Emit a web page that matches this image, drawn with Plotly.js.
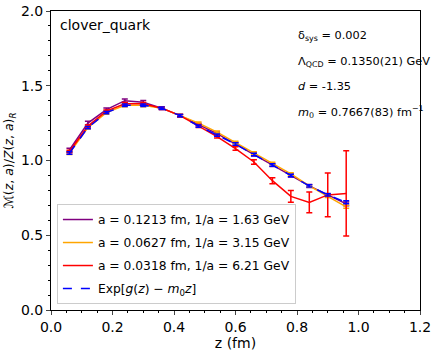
<!DOCTYPE html>
<html><head><meta charset="utf-8">
<script src="https://cdn.plot.ly/plotly-3.0.1.min.js"></script>
<style>body{margin:0;background:#fff}#plot{width:436px;height:351px}</style>
</head><body><div id="plot"></div>
<script>
const z = [0.06,0.12,0.18,0.24,0.30,0.36,0.42,0.48,0.54,0.60,0.66,0.72,0.78,0.84,0.90,0.96];
const purpleVals = [1.07,1.25,1.34,1.40,1.39,1.35,1.30,1.24,1.18,1.11,1.04,0.97,0.90,0.83,0.77,0.71];
const purpleErr  = [0.012,0.012,0.012,0.012,0.012,0.010,0.010,0.010,0.010,0.010,0.010,0.010,0.010,0.010,0.010,0.012];
const orangeVals = [1.05,1.22,1.32,1.37,1.37,1.35,1.30,1.25,1.19,1.12,1.05,0.98,0.91,0.83,0.76,0.69];
const orangeErr  = [0.010,0.010,0.010,0.010,0.010,0.008,0.008,0.008,0.008,0.008,0.008,0.008,0.008,0.008,0.008,0.010];
const redVals    = [1.06,1.23,1.33,1.38,1.38,1.35,1.30,1.23,1.16,1.08,0.99,0.865,0.76,0.72,0.77,0.78];
const redErr     = [0.008,0.008,0.008,0.008,0.008,0.008,0.008,0.010,0.010,0.012,0.015,0.02,0.04,0.07,0.147,0.285];
const expVals    = [1.05,1.22,1.32,1.37,1.37,1.35,1.30,1.23,1.17,1.11,1.04,0.97,0.90,0.83,0.77,0.72];
const expErr     = [0.008,0.008,0.008,0.008,0.008,0.008,0.008,0.008,0.008,0.008,0.008,0.008,0.008,0.008,0.008,0.010];
const seriesNames = ["a = 0.1213 fm, 1/a = 1.63 GeV","a = 0.0627 fm, 1/a = 3.15 GeV","a = 0.0318 fm, 1/a = 6.21 GeV","Exp[<i>g</i>(<i>z</i>) − <i>m</i><sub>0</sub><i>z</i>]"];
const infoLines = ["δ<sub>sys</sub> = 0.002","Λ<sub>QCD</sub> = 0.1350(21) GeV","<i>d</i> = -1.35","<i>m</i><sub>0</sub> = 0.7667(83) fm<sup>−1</sup>"];

function tr(y, e, name, color, dash, g){
  return {x:z, y:y, name:name, mode:'lines', type:'scatter', legendgroup:g,
    line:{color:color, width:1.5, dash:dash||'solid'},
    error_y:{type:'data', array:e, visible:true, color:color, thickness:1.5, width:3}};
}
const data = [
  tr(purpleVals, purpleErr, seriesNames[0], '#800080', 'solid', 'g1'),
  tr(orangeVals, orangeErr, seriesNames[1], '#FFA500', 'solid', 'g2'),
  tr(redVals, redErr, seriesNames[2], '#FF0000', 'solid', 'g3'),
  tr(expVals, expErr, seriesNames[3], '#0000FF', 'dash', 'g4')
];
const font = {family:'DejaVu Sans', color:'#000'};
const annotations = [{xref:'paper', yref:'paper', x:0.018, y:0.985, xanchor:'left', yanchor:'top', showarrow:false,
  text:'clover_quark', font:{family:'DejaVu Sans', size:14, color:'#000'}}];
infoLines.forEach((t,i)=>annotations.push({xref:'paper', yref:'paper', x:0.665, y:0.915 - i*0.084, xanchor:'left', yanchor:'middle', showarrow:false, text:t, font:{family:'DejaVu Sans', size:11.3, color:'#000'}}));

const layout = {
  width:436, height:351, margin:{l:51, r:16, t:11, b:41},
  paper_bgcolor:'#fff', plot_bgcolor:'#fff', font:font,
  showlegend:true,
  legend:{x:0.016, y:0.02, xanchor:'left', yanchor:'bottom', bgcolor:'rgba(255,255,255,0.8)', bordercolor:'#cccccc', borderwidth:1, font:{family:'DejaVu Sans', size:12.3, color:'#000'}, tracegroupgap:4, itemwidth:30},
  xaxis:{range:[0,1.2], tick0:0, dtick:0.2, tickformat:'.1f', ticks:'outside', ticklen:4, tickwidth:1, showline:true, mirror:true, linecolor:'#000', linewidth:1, showgrid:false, zeroline:false,
    tickfont:{family:'DejaVu Sans', size:14, color:'#000'},
    minor:{dtick:0.05, ticks:'outside', ticklen:2, tickcolor:'#000'},
    title:{text:'z (fm)', font:{family:'DejaVu Sans', size:14, color:'#000'}, standoff:4}},
  yaxis:{range:[0,2.0], tick0:0, dtick:0.5, tickformat:'.1f', ticks:'outside', ticklen:4, tickwidth:1, showline:true, mirror:true, linecolor:'#000', linewidth:1, showgrid:false, zeroline:false,
    tickfont:{family:'DejaVu Sans', size:14, color:'#000'},
    minor:{dtick:0.1, ticks:'outside', ticklen:2, tickcolor:'#000'},
    title:{text:'ℳ(<i>z</i>, <i>a</i>)/<i>Z</i>(<i>z</i>, <i>a</i>)<sub><i>R</i></sub>', font:{family:'DejaVu Sans', size:12.5, color:'#000'}, standoff:4}},
  annotations:annotations
};
Plotly.newPlot('plot', data, layout, {displayModeBar:false, staticPlot:true});
</script></body></html>
